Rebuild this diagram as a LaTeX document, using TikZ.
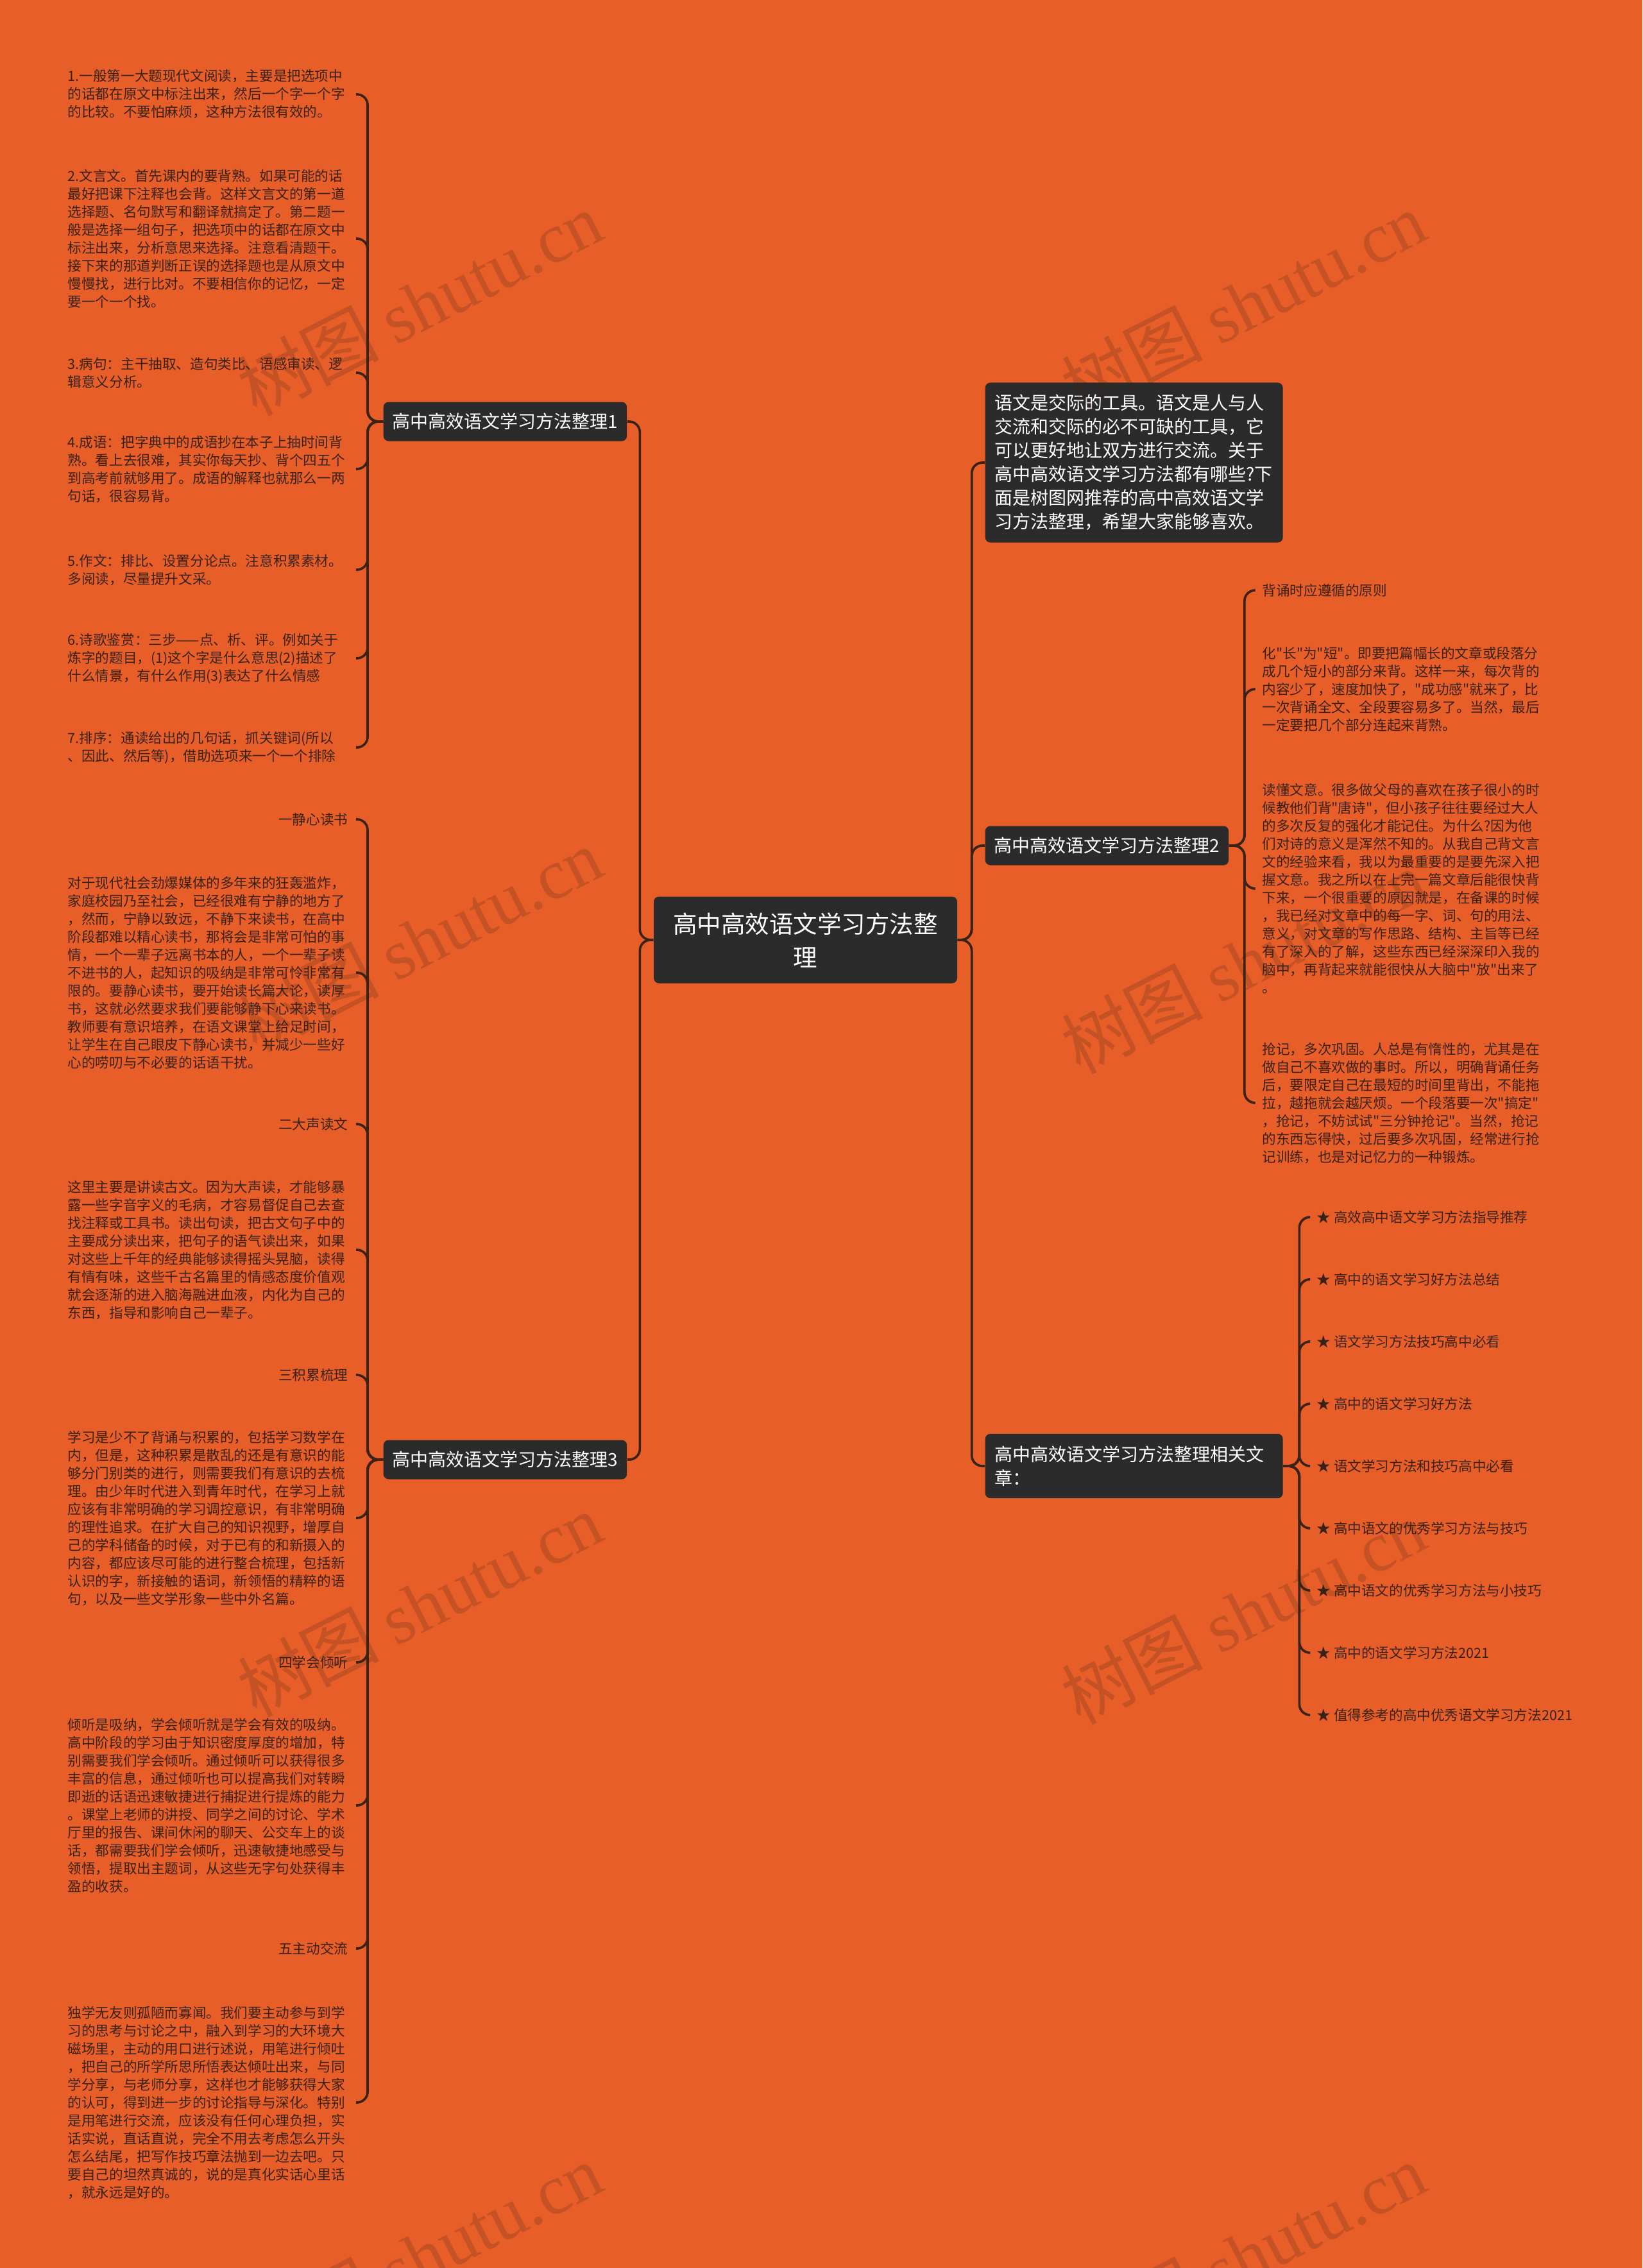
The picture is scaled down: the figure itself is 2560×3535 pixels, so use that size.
\documentclass[tikz,border=0pt]{standalone}
\usepackage{fontspec}
\setmainfont{Noto Sans CJK SC}
\newfontfamily\cjkfont{Noto Sans CJK SC}
\newfontfamily\wmlatin{Liberation Serif}
\definecolor{ShutuOrange}{RGB}{232,94,40}
\definecolor{ShutuDark}{RGB}{43,43,43}
\definecolor{ShutuLine}{RGB}{58,34,22}
\definecolor{ShutuText}{RGB}{56,34,24}
\usetikzlibrary{
    positioning,
    calc,
}
\newcommand{\leaffont}{\cjkfont\fontsize{6.48pt}{8.4pt}\selectfont}
\newcommand{\hubfont}{\cjkfont\fontsize{8.4pt}{11.1pt}\selectfont}

\begin{document}
\begin{tikzpicture}[x=0.3pt, y=-0.3pt,
        rootbox/.style={fill=ShutuDark, text=white, rounded corners=2.4pt, align=center,
            font=\cjkfont\fontsize{11.25pt}{15.6pt}\selectfont, minimum width=141.9pt, minimum height=40.5pt},
        hub/.style={fill=ShutuDark, text=white, rounded corners=2.4pt, font=\hubfont,
            inner xsep=4.2pt, inner ysep=0pt, minimum height=18.3pt, align=left},
        hubwide/.style={hub, text width=130.2pt, inner xsep=4.5pt, inner ysep=5.6pt},
        leaf/.style={text=ShutuText, font=\leaffont, inner xsep=3.6pt, inner ysep=0pt, align=left},
        leafpara/.style={leaf, text width=131pt},
        starleaf/.style={leaf},
        link/.style={draw=ShutuLine, line width=1.1pt, rounded corners=5pt},
        wmark/.style={text=ShutuLine, opacity=0.2, rotate=27, font=\fontsize{33pt}{33pt}\selectfont},
    ]
        \fill[ShutuOrange] (0,0) rectangle (2560,3535);
        \useasboundingbox (0,0) rectangle (2560,3535);

        % centre and main branches
        \node[rootbox] (root) at (1255.5,1465) {高中高效语文学习方法整\\理};
        \node[hub, anchor=west] (b1) at (597,657) {高中高效语文学习方法整理1};
        \node[hub, anchor=west] (b3) at (597,2275) {高中高效语文学习方法整理3};
        \node[hubwide, anchor=west] (intro) at (1535,721) {语文是交际的工具。语文是人与人\\交流和交际的必不可缺的工具，它\\可以更好地让双方进行交流。关于\\高中高效语文学习方法都有哪些?下\\面是树图网推荐的高中高效语文学\\习方法整理，希望大家能够喜欢。};
        \node[hub, anchor=west] (b2) at (1535,1318) {高中高效语文学习方法整理2};
        \node[hubwide, anchor=west] (b4) at (1535,2285) {高中高效语文学习方法整理相关文\\章：};

        \draw[link] (root.west) -- ++(-21,0) |- (b1.east);
        \draw[link] (root.west) -- ++(-21,0) |- (b3.east);
        \draw[link] (root.east) -- ++(22,0) |- (intro.west);
        \draw[link] (root.east) -- ++(22,0) |- (b2.west);
        \draw[link] (root.east) -- ++(22,0) |- (b4.west);

        % branch 1
        \node[leafpara, anchor=east] (l1) at (555,147) {1.一般第一大题现代文阅读，主要是把选项中\\的话都在原文中标注出来，然后一个字一个字\\的比较。不要怕麻烦，这种方法很有效的。};
        \node[leafpara, anchor=east] (l2) at (555,372) {2.文言文。首先课内的要背熟。如果可能的话\\最好把课下注释也会背。这样文言文的第一道\\选择题、名句默写和翻译就搞定了。第二题一\\般是选择一组句子，把选项中的话都在原文中\\标注出来，分析意思来选择。注意看清题干。\\接下来的那道判断正误的选择题也是从原文中\\慢慢找，进行比对。不要相信你的记忆，一定\\要一个一个找。};
        \node[leafpara, anchor=east] (l3) at (555,581) {3.病句：主干抽取、造句类比、语感审读、逻\\辑意义分析。};
        \node[leafpara, anchor=east] (l4) at (555,731) {4.成语：把字典中的成语抄在本子上抽时间背\\熟。看上去很难，其实你每天抄、背个四五个\\到高考前就够用了。成语的解释也就那么一两\\句话，很容易背。};
        \node[leafpara, anchor=east] (l5) at (555,888) {5.作文：排比、设置分论点。注意积累素材。\\多阅读，尽量提升文采。};
        \node[leafpara, anchor=east] (l6) at (555,1026) {6.诗歌鉴赏：三步——点、析、评。例如关于\\炼字的题目，(1)这个字是什么意思(2)描述了\\什么情景，有什么作用(3)表达了什么情感};
        \node[leafpara, anchor=east] (l7) at (555,1165) {7.排序：通读给出的几句话，抓关键词(所以\\、因此、然后等)，借助选项来一个一个排除};
        \draw[link] (b1.west) -- ++(-24,0) |- (l1.east);
        \draw[link] (b1.west) -- ++(-24,0) |- (l2.east);
        \draw[link] (b1.west) -- ++(-24,0) |- (l3.east);
        \draw[link] (b1.west) -- ++(-24,0) |- (l4.east);
        \draw[link] (b1.west) -- ++(-24,0) |- (l5.east);
        \draw[link] (b1.west) -- ++(-24,0) |- (l6.east);
        \draw[link] (b1.west) -- ++(-24,0) |- (l7.east);

        % branch 3
        \node[leaf, anchor=east] (t1) at (555,1277) {一静心读书};
        \node[leafpara, anchor=east] (p1) at (555,1516) {对于现代社会劲爆媒体的多年来的狂轰滥炸，\\家庭校园乃至社会，已经很难有宁静的地方了\\，然而，宁静以致远，不静下来读书，在高中\\阶段都难以精心读书，那将会是非常可怕的事\\情，一个一辈子远离书本的人，一个一辈子读\\不进书的人，起知识的吸纳是非常可怜非常有\\限的。要静心读书，要开始读长篇大论，读厚\\书，这就必然要求我们要能够静下心来读书。\\教师要有意识培养，在语文课堂上给足时间，\\让学生在自己眼皮下静心读书，并减少一些好\\心的唠叨与不必要的话语干扰。};
        \node[leaf, anchor=east] (t2) at (555,1752) {二大声读文};
        \node[leafpara, anchor=east] (p2) at (555,1948) {这里主要是讲读古文。因为大声读，才能够暴\\露一些字音字义的毛病，才容易督促自己去查\\找注释或工具书。读出句读，把古文句子中的\\主要成分读出来，把句子的语气读出来，如果\\对这些上千年的经典能够读得摇头晃脑，读得\\有情有味，这些千古名篇里的情感态度价值观\\就会逐渐的进入脑海融进血液，内化为自己的\\东西，指导和影响自己一辈子。};
        \node[leaf, anchor=east] (t3) at (555,2143) {三积累梳理};
        \node[leafpara, anchor=east] (p3) at (555,2366) {学习是少不了背诵与积累的，包括学习数学在\\内，但是，这种积累是散乱的还是有意识的能\\够分门别类的进行，则需要我们有意识的去梳\\理。由少年时代进入到青年时代，在学习上就\\应该有非常明确的学习调控意识，有非常明确\\的理性追求。在扩大自己的知识视野，增厚自\\己的学科储备的时候，对于已有的和新摄入的\\内容，都应该尽可能的进行整合梳理，包括新\\认识的字，新接触的语词，新领悟的精粹的语\\句，以及一些文学形象一些中外名篇。};
        \node[leaf, anchor=east] (t4) at (555,2591) {四学会倾听};
        \node[leafpara, anchor=east] (p4) at (555,2814) {倾听是吸纳，学会倾听就是学会有效的吸纳。\\高中阶段的学习由于知识密度厚度的增加，特\\别需要我们学会倾听。通过倾听可以获得很多\\丰富的信息，通过倾听也可以提高我们对转瞬\\即逝的话语迅速敏捷进行捕捉进行提炼的能力\\。课堂上老师的讲授、同学之间的讨论、学术\\厅里的报告、课间休闲的聊天、公交车上的谈\\话，都需要我们学会倾听，迅速敏捷地感受与\\领悟，提取出主题词，从这些无字句处获得丰\\盈的收获。};
        \node[leaf, anchor=east] (t5) at (555,3037) {五主动交流};
        \node[leafpara, anchor=east] (p5) at (555,3277) {独学无友则孤陋而寡闻。我们要主动参与到学\\习的思考与讨论之中，融入到学习的大环境大\\磁场里，主动的用口进行述说，用笔进行倾吐\\，把自己的所学所思所悟表达倾吐出来，与同\\学分享，与老师分享，这样也才能够获得大家\\的认可，得到进一步的讨论指导与深化。特别\\是用笔进行交流，应该没有任何心理负担，实\\话实说，直话直说，完全不用去考虑怎么开头\\怎么结尾，把写作技巧章法抛到一边去吧。只\\要自己的坦然真诚的，说的是真化实话心里话\\，就永远是好的。};
        \draw[link] (b3.west) -- ++(-24,0) |- (t1.east);
        \draw[link] (b3.west) -- ++(-24,0) |- (p1.east);
        \draw[link] (b3.west) -- ++(-24,0) |- (t2.east);
        \draw[link] (b3.west) -- ++(-24,0) |- (p2.east);
        \draw[link] (b3.west) -- ++(-24,0) |- (t3.east);
        \draw[link] (b3.west) -- ++(-24,0) |- (p3.east);
        \draw[link] (b3.west) -- ++(-24,0) |- (t4.east);
        \draw[link] (b3.west) -- ++(-24,0) |- (p4.east);
        \draw[link] (b3.west) -- ++(-24,0) |- (t5.east);
        \draw[link] (b3.west) -- ++(-24,0) |- (p5.east);

        % branch 2
        \node[leaf, anchor=west] (r1) at (1955,920) {背诵时应遵循的原则};
        \node[leaf, anchor=west] (r2) at (1955,1074) {化"长"为"短"。即要把篇幅长的文章或段落分\\成几个短小的部分来背。这样一来，每次背的\\内容少了，速度加快了，"成功感"就来了，比\\一次背诵全文、全段要容易多了。当然，最后\\一定要把几个部分连起来背熟。};
        \node[leaf, anchor=west] (r3) at (1955,1385) {读懂文意。很多做父母的喜欢在孩子很小的时\\候教他们背"唐诗"，但小孩子往往要经过大人\\的多次反复的强化才能记住。为什么?因为他\\们对诗的意义是浑然不知的。从我自己背文言\\文的经验来看，我以为最重要的是要先深入把\\握文意。我之所以在上完一篇文章后能很快背\\下来，一个很重要的原因就是，在备课的时候\\，我已经对文章中的每一字、词、句的用法、\\意义，对文章的写作思路、结构、主旨等已经\\有了深入的了解，这些东西已经深深印入我的\\脑中，再背起来就能很快从大脑中"放"出来了\\。};
        \node[leaf, anchor=west] (r4) at (1955,1719) {抢记，多次巩固。人总是有惰性的，尤其是在\\做自己不喜欢做的事时。所以，明确背诵任务\\后，要限定自己在最短的时间里背出，不能拖\\拉，越拖就会越厌烦。一个段落要一次"搞定"\\，抢记，不妨试试"三分钟抢记"。当然，抢记\\的东西忘得快，过后要多次巩固，经常进行抢\\记训练，也是对记忆力的一种锻炼。};
        \draw[link] (b2.east) -- ++(24,0) |- (r1.west);
        \draw[link] (b2.east) -- ++(24,0) |- (r2.west);
        \draw[link] (b2.east) -- ++(24,0) |- (r3.west);
        \draw[link] (b2.east) -- ++(24,0) |- (r4.west);

        % branch 4
        \node[starleaf, anchor=west] (s1) at (2040,1897) {★ 高效高中语文学习方法指导推荐};
        \node[starleaf, anchor=west] (s2) at (2040,1994) {★ 高中的语文学习好方法总结};
        \node[starleaf, anchor=west] (s3) at (2040,2091) {★ 语文学习方法技巧高中必看};
        \node[starleaf, anchor=west] (s4) at (2040,2188) {★ 高中的语文学习好方法};
        \node[starleaf, anchor=west] (s5) at (2040,2285) {★ 语文学习方法和技巧高中必看};
        \node[starleaf, anchor=west] (s6) at (2040,2382) {★ 高中语文的优秀学习方法与技巧};
        \node[starleaf, anchor=west] (s7) at (2040,2479) {★ 高中语文的优秀学习方法与小技巧};
        \node[starleaf, anchor=west] (s8) at (2040,2576) {★ 高中的语文学习方法2021};
        \node[starleaf, anchor=west] (s9) at (2040,2673) {★ 值得参考的高中优秀语文学习方法2021};
        \draw[link] (b4.east) -- ++(25,0) |- (s1.west);
        \draw[link] (b4.east) -- ++(25,0) |- (s2.west);
        \draw[link] (b4.east) -- ++(25,0) |- (s3.west);
        \draw[link] (b4.east) -- ++(25,0) |- (s4.west);
        \draw[link] (b4.east) -- ++(25,0) |- (s5.west);
        \draw[link] (b4.east) -- ++(25,0) |- (s6.west);
        \draw[link] (b4.east) -- ++(25,0) |- (s7.west);
        \draw[link] (b4.east) -- ++(25,0) |- (s8.west);
        \draw[link] (b4.east) -- ++(25,0) |- (s9.west);

        % watermarks
        \node[wmark] (wm1) at (654,473) {树图 {\wmlatin shutu.cn}};
        \node[wmark] (wm2) at (1938,473) {树图 {\wmlatin shutu.cn}};
        \node[wmark] (wm3) at (654,1465) {树图 {\wmlatin shutu.cn}};
        \node[wmark] (wm4) at (1938,1499) {树图 {\wmlatin shutu.cn}};
        \node[wmark] (wm5) at (654,2501) {树图 {\wmlatin shutu.cn}};
        \node[wmark] (wm6) at (1938,2513) {树图 {\wmlatin shutu.cn}};
        \node[wmark] (wm7) at (654,3515) {树图 {\wmlatin shutu.cn}};
        \node[wmark] (wm8) at (1938,3515) {树图 {\wmlatin shutu.cn}};
    \end{tikzpicture}
\end{document}
